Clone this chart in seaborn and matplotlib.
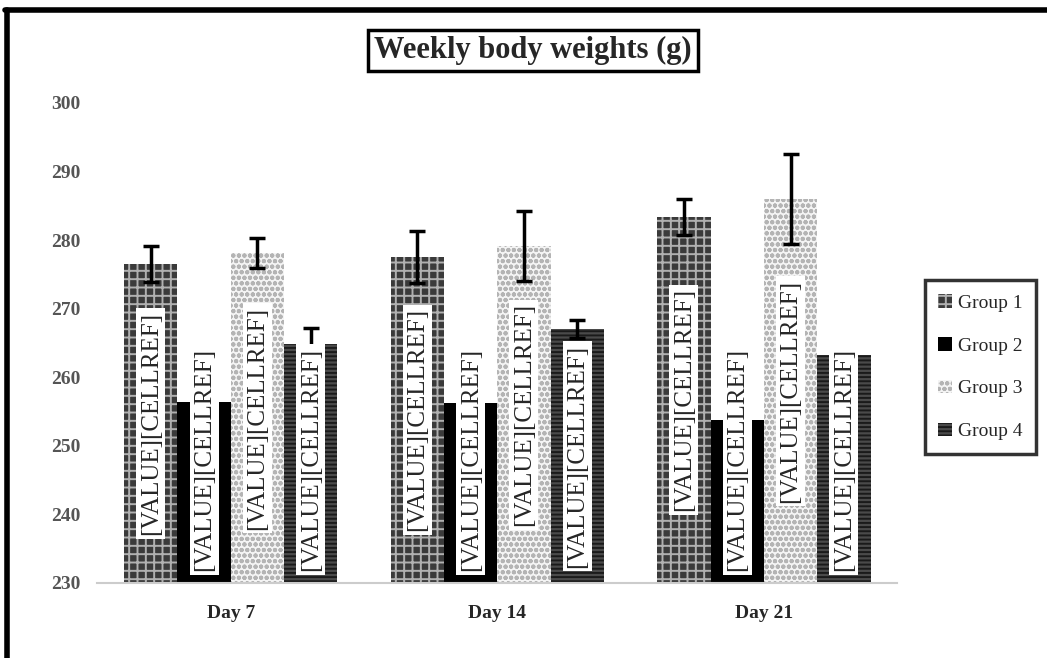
import numpy as np
import pandas as pd
import seaborn as sns
import matplotlib.pyplot as plt
from matplotlib.lines import Line2D

days = ["Day 7", "Day 14", "Day 21"]
groups = ["Group 1", "Group 2", "Group 3", "Group 4"]
group1 = [276.5, 277.6, 283.4]
group2 = [256.4, 256.3, 253.7]
group3 = [278.1, 279.1, 286.0]
group4 = [264.8, 267.0, 263.2]
err1 = [2.6, 3.8, 2.6]
err2 = [2.5, 2.5, 2.5]
err3 = [2.2, 5.1, 6.6]
err4 = [2.4, 1.3, 1.0]
label_text = "[VALUE][CELLREF]"

values = [group1, group2, group3, group4]
errors = [err1, err2, err3, err4]

rows = []
for g, vals in zip(groups, values):
    for d, v in zip(days, vals):
        rows.append({"day": d, "group": g, "weight": v})
df = pd.DataFrame(rows)

sns.set_style("white")
plt.rcParams["font.family"] = ["Liberation Serif", "DejaVu Serif"]
plt.rcParams["hatch.linewidth"] = 1.4

fig = plt.figure(figsize=(10.47, 6.58), dpi=100)
ax = fig.add_axes([0.093, 0.114, 0.764, 0.7295])

faces = ["#3a3a3a", "#000000", "#f4f4f4", "#4a4a4a"]
hatch_cols = ["#b0b0b0", "#000000", "#b4b4b4", "#1a1a1a"]
hatches = ["++", "", "ooo", "----"]

sns.barplot(data=df, x="day", y="weight", hue="group", palette=faces,
            errorbar=None, width=0.8, saturation=1, ax=ax, legend=False)

bar_conts = list(ax.containers)
for i, cont in enumerate(bar_conts):
    for j, bar in enumerate(cont):
        bar.set_hatch(hatches[i])
        bar.set_edgecolor(hatch_cols[i])
        bar.set_linewidth(0)
        xc = bar.get_x() + bar.get_width() / 2
        top = bar.get_height()
        ax.errorbar(xc, top, yerr=errors[i][j], color="black", lw=2.5,
                    capsize=6, capthick=2.5, zorder=3)
        # label centred in the bar, pushed up when the bar is too short
        mid = max((230 + top) / 2, 248)
        ax.text(xc, mid, label_text, rotation=90, ha="center", va="center",
                fontsize=18, zorder=4,
                bbox=dict(facecolor="white", edgecolor="none", pad=2.5))

# legend handles with the same fills
handles = []
for i, g in enumerate(groups):
    h = plt.Rectangle((0, 0), 1, 1, facecolor=faces[i], edgecolor=hatch_cols[i],
                      hatch=hatches[i], linewidth=0)
    handles.append(h)
leg = ax.legend(handles, groups, loc="center left", bbox_to_anchor=(0.874, 0.442),
                bbox_transform=fig.transFigure, frameon=True, fontsize=14,
                labelspacing=1.3, handlelength=0.7, handleheight=0.7,
                handletextpad=0.3, borderpad=0.7, fancybox=False,
                edgecolor="black")
leg.get_frame().set_linewidth(2.5)

ax.set_ylim(230, 300)
ax.set_yticks(np.arange(230, 301, 10))
ax.set_xlim(-0.5, 2.5)
ax.set_xlabel("")
ax.set_ylabel("")
ax.tick_params(axis="y", length=0, pad=12, labelsize=14, labelcolor="#555555")
ax.tick_params(axis="x", length=0, pad=16, labelsize=14)
for lab in ax.get_xticklabels():
    lab.set_fontweight("bold")
for lab in ax.get_yticklabels():
    lab.set_fontweight("bold")
sns.despine(ax=ax, left=True)
ax.spines["bottom"].set_color("#cccccc")
ax.spines["bottom"].set_linewidth(1.5)

fig.text(0.509, 0.923, "Weekly body weights (g)", ha="center", va="center",
         fontsize=22, fontweight="bold",
         bbox=dict(facecolor="white", edgecolor="black", linewidth=2.5,
                   boxstyle="square,pad=0.2"))

# outer frame (top and left edges visible)
fig.add_artist(Line2D([0.007, 0.007], [0.0, 0.985], color="black", lw=4,
                      transform=fig.transFigure))
fig.add_artist(Line2D([0.005, 1.0], [0.985, 0.985], color="black", lw=4,
                      transform=fig.transFigure))

fig.savefig("out.png", dpi=100)
